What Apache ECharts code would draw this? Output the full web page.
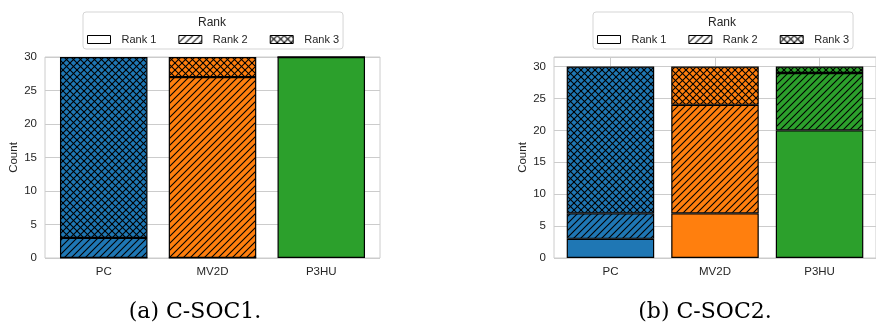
<!DOCTYPE html>
<html>
<head>
<meta charset="utf-8">
<script src="https://cdn.jsdelivr.net/npm/echarts@6/dist/echarts.min.js"></script>
<style>
  html, body { margin: 0; padding: 0; background: #fff; }
  #chart { width: 876px; height: 322px; }
</style>
</head>
<body>
<div id="chart"></div>
<script>
// Categories and rank names
const categories = ['PC', 'MV2D', 'P3HU'];
const rankNames = ['Rank 1', 'Rank 2', 'Rank 3'];

// C-SOC1 counts per rank
const socOneRank1 = [0, 0, 30];
const socOneRank2 = [3, 27, 0];
const socOneRank3 = [27, 3, 0];

// C-SOC2 counts per rank
const socTwoRank1 = [3, 7, 20];
const socTwoRank2 = [4, 17, 9];
const socTwoRank3 = [23, 6, 1];

// Y-axis ranges per panel
const yMaxPanels = [30, 31.5];
const yTickStep = 5;

const panelCaptions = ['(a) C-SOC1.', '(b) C-SOC2.'];
const categoryColors = ['#1f77b4', '#ff7f0e', '#2ca02c'];

const TEXT = '#262626';
const GRID = '#cccccc';
const SANS = '"Liberation Sans", Arial, sans-serif';

// Category positions on the x value axis, with a 5% margin around the bars
const catPositions = categories.map((_, i) => i);
const xPad = 0.54;

// Build a repeating hatch fill: rank 0 plain, rank 1 '/', rank 2 'x'
const patternCache = {};
function hatch(base, rank) {
  const key = base + '|' + rank;
  if (patternCache[key]) return patternCache[key];
  const s = 7;
  const c = document.createElement('canvas');
  c.width = s; c.height = s;
  const g = c.getContext('2d');
  g.fillStyle = base;
  g.fillRect(0, 0, s, s);
  g.strokeStyle = '#000';
  g.lineWidth = 1.1;
  const seg = (x1, y1, x2, y2) => { g.beginPath(); g.moveTo(x1, y1); g.lineTo(x2, y2); g.stroke(); };
  if (rank >= 1) {
    seg(-1, s + 1, s + 1, -1);
    seg(-1, 1, 1, -1);
    seg(s - 1, s + 1, s + 1, s - 1);
  }
  if (rank >= 2) {
    seg(-1, -1, s + 1, s + 1);
    seg(-1, s - 1, 1, s + 1);
    seg(s - 1, -1, s + 1, 1);
  }
  const p = (rank === 0) ? base : { image: c, repeat: 'repeat' };
  patternCache[key] = p;
  return p;
}

const panels = [
  [socOneRank1, socOneRank2, socOneRank3],
  [socTwoRank1, socTwoRank2, socTwoRank3]
];

const grids = [
  { left: 45, width: 335, top: 57, bottom: 64 },
  { left: 554, width: 335, top: 57, bottom: 64 }
].map(g => Object.assign({ show: true, borderColor: GRID, borderWidth: 1, backgroundColor: '#fff' }, g));

const xAxes = panels.map((_, p) => ({
  gridIndex: p,
  type: 'value',
  min: catPositions[0] - xPad,
  max: catPositions[catPositions.length - 1] + xPad,
  axisLine: { show: false },
  axisTick: { show: false, customValues: catPositions },
  splitLine: { show: false },
  axisLabel: {
    customValues: catPositions,
    formatter: v => categories[Math.round(v)],
    color: TEXT, fontSize: 11.5, fontFamily: SANS, margin: 8
  }
}));

const yAxes = panels.map((_, p) => ({
  gridIndex: p,
  type: 'value',
  min: 0,
  max: yMaxPanels[p],
  interval: yTickStep,
  name: 'Count',
  nameLocation: 'middle',
  nameGap: 24,
  nameTextStyle: { color: TEXT, fontSize: 11.5, fontFamily: SANS },
  axisLine: { show: false },
  axisTick: { show: false },
  splitLine: { show: true, lineStyle: { color: GRID, width: 1 } },
  axisLabel: { color: TEXT, fontSize: 11.5, fontFamily: SANS, margin: 8, showMaxLabel: p === 0 }
}));

const series = [];
panels.forEach((ranks, p) => {
  ranks.forEach((vals, r) => {
    const s = {
      name: rankNames[r],
      type: 'bar',
      stack: 'panel' + p,
      xAxisIndex: p,
      yAxisIndex: p,
      barWidth: 87.5,
      // count first so it is the stacked dimension, category position second
      encode: { x: 1, y: 0 },
      emphasis: { disabled: true },
      itemStyle: { borderColor: '#000', borderWidth: 1.2 },
      data: vals.map((v, i) => ({ value: [v, catPositions[i]], itemStyle: { color: hatch(categoryColors[i], r) } }))
    };
    if (r === 0) {
      // vertical grid lines at category centres
      s.markLine = {
        silent: true,
        z: 1,
        symbol: 'none',
        label: { show: false },
        lineStyle: { color: GRID, width: 1, type: 'solid' },
        emphasis: { disabled: true },
        data: catPositions.map(x => ({ xAxis: x }))
      };
    }
    series.push(s);
  });
});

const legendLefts = [83, 593];
const legends = legendLefts.map(left => ({
  left: left,
  top: 12,
  orient: 'horizontal',
  padding: [22, 4, 4, 4],
  itemWidth: 23,
  itemHeight: 8,
  itemGap: 22,
  icon: 'rect',
  borderColor: '#d5d5d5',
  borderWidth: 1,
  borderRadius: 3,
  selectedMode: false,
  textStyle: { color: TEXT, fontSize: 11, fontFamily: SANS, padding: [0, 0, 0, 6] },
  data: rankNames.map((n, r) => ({
    name: n,
    itemStyle: { color: hatch('#ffffff', r), borderColor: '#000', borderWidth: 1 }
  }))
}));

const captionFont = '22px "DejaVu Serif", serif';
const graphics = [
  { type: 'text', x: 212, y: 22.5, style: { text: 'Rank', fill: TEXT, font: '12px ' + SANS, textAlign: 'center', textVerticalAlign: 'middle' } },
  { type: 'text', x: 722, y: 22.5, style: { text: 'Rank', fill: TEXT, font: '12px ' + SANS, textAlign: 'center', textVerticalAlign: 'middle' } },
  { type: 'text', x: 195, y: 312, style: { text: panelCaptions[0], fill: '#000', font: captionFont, textAlign: 'center', textVerticalAlign: 'middle' } },
  { type: 'text', x: 705, y: 312, style: { text: panelCaptions[1], fill: '#000', font: captionFont, textAlign: 'center', textVerticalAlign: 'middle' } }
];

const chart = echarts.init(document.getElementById('chart'), null, { renderer: 'canvas' });
chart.setOption({
  animation: false,
  backgroundColor: '#fff',
  grid: grids,
  xAxis: xAxes,
  yAxis: yAxes,
  legend: legends,
  graphic: graphics,
  series: series
});
</script>
</body>
</html>
